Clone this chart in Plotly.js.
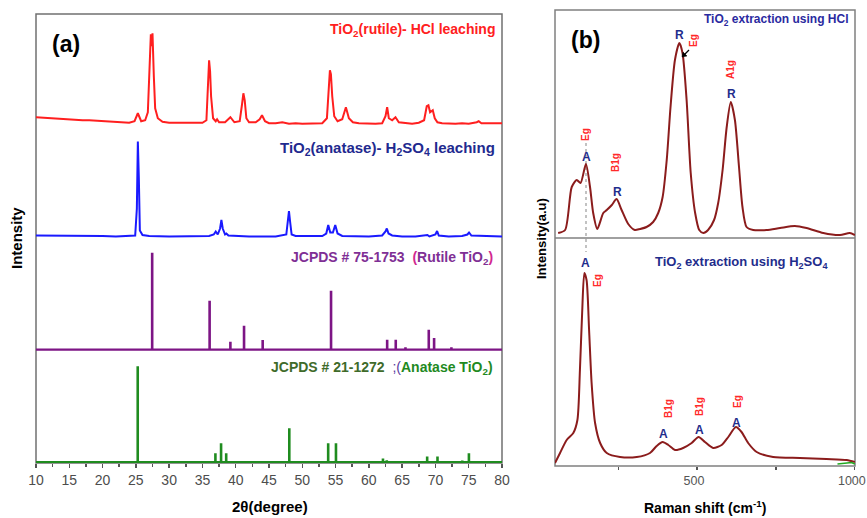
<!DOCTYPE html>
<html>
<head>
<meta charset="utf-8">
<script src="https://cdn.plot.ly/plotly-3.0.1.min.js"></script>
<style>html,body{margin:0;padding:0;background:#fff;}#plot{width:867px;height:518px;}</style>
</head>
<body>
<div id="plot"></div>
<script>
// ---------- DATA ----------
// (a) XRD, TiO2 rutile from HCl leaching: 2theta (deg), intensity (a.u.)
const rutileXrdX = [10,11,12,13,14,15,16,17,18,19,20,21,22,23,24,24.8,25.3,25.8,26.4,26.8,27.1,27.25,27.4,27.5,27.7,27.9,28.3,29,30,31,32,33,34,35,35.6,35.85,36.0,36.15,36.3,36.6,37,37.2,37.5,38.4,39.2,39.8,40.6,40.95,41.15,41.35,41.6,42,43,43.6,43.95,44.4,45,46,47,48,49,50,51,52,53,53.7,53.95,54.15,54.3,54.5,54.8,55.3,56,56.55,57,57.6,58.5,60,61,62,62.5,62.75,63,63.5,64,64.5,65.5,66.5,67.5,68.3,68.7,68.95,69.2,69.6,69.9,70.3,71,72,73,74,75,76.2,76.5,76.9,78,79,80];
const rutileXrdY = [9,8.5,8,7.5,7,7,6.5,6,6,5.5,5,4.5,4,4,3.5,5,13,5,6,14,60,92,80,93,50,18,8,4.5,3.5,3.5,3,3,3,3.5,6,40,66,55,30,8,5,7,4,4,9,4,5,22,33,26,8,4,4,7,11,5,3,3,4,2.5,3,2.5,2.5,2.5,3,8,40,56,52,30,10,5,7,19,8,4,3,2.5,2.5,3,10,19,8,6,9,4,3,2.5,3.5,6,20,21,14,16,8,4,3,2.5,2.5,3,2.5,4,5,3,3,2.5,3];
// (a) XRD, TiO2 anatase from H2SO4 leaching
const anataseXrdX = [10,12,14,16,18,20,22,24,24.9,25.15,25.3,25.45,25.6,26,27,30,32,34,36,36.7,37.0,37.3,37.65,37.85,38.05,38.4,38.6,38.9,40,42,44,46,47.6,47.85,48.0,48.15,48.4,49,51,53,53.6,53.9,54.2,54.6,54.95,55.3,56,58,60,62,62.5,62.7,62.95,63.5,65,67,68.5,68.8,69.1,70,70.25,70.5,72,74,74.8,75.05,75.4,77,78,80];
const anataseXrdY = [3,3,2.5,2.5,2.5,2.5,2,2.5,3,30,97,60,8,3.5,2.5,2,2,2,2.5,4,7,4,10,18.5,10,4,5,3,2.5,2,2,2,4,20,27.5,18,4,2.5,2.5,2.5,5,13.5,6,6,13.5,5,2.5,2,2,3,7,10,5,3,2,2,3,3.5,2,4,7.5,3,2,2.5,4,6,3,2.5,2,2];
// (a) reference patterns (stick positions and relative intensities)
const jcpdsRutilePos = [27.45,36.08,39.2,41.25,44.05,54.32,62.75,64.04,65.5,69.0,69.8,72.4];
const jcpdsRutileInt = [97,49,8,24,9.7,59,10,10,2.5,20,11.7,2.5];
const jcpdsAnatasePos = [25.28,36.95,37.8,38.57,48.05,53.89,55.06,62.12,62.69,68.76,70.31,74.03,75.03];
const jcpdsAnataseInt = [96,9,19,9,34,19,19,3.7,2,5.7,5.7,1.7,9];
const xrdTickVals = [10,15,20,25,30,35,40,45,50,55,60,65,70,75,80];
const xrdTickText = ['10','15','20','25','30','35','40','45','50','55','60','65','70','75','80'];
const xrdMinorVals = [12.5,17.5,22.5,27.5,32.5,37.5,42.5,47.5,52.5,57.5,62.5,67.5,72.5,77.5];

// (b) Raman, HCl extraction: Raman shift (cm-1), intensity (a.u.)
const ramanHclX = [60,82,103,119,131,148,161,171,184,203,214,230,245,261,282,303,319,340,361,377,391,404,416,430,444,454,467,480,494,507,520,535,554,567,581,594,607,620,633,644,657,678,720,763,810,847,900,953,984,1000];
const ramanHclY = [5,8,51,58,55,74,51,25,9,25,28,33,39,28,14,8,9,11,16,25,41,78,131,178,195,185,138,65,25,8,5,8,18,35,68,111,136,118,71,31,11,8,8,10,12,10,5,3,5,3];
// (b) Raman, H2SO4 extraction
const ramanH2so4X = [50,66,87,108,121,129,136,143,150,158,166,177,193,214,256,309,351,372,391,409,430,456,483,505,525,551,578,599,623,641,662,689,741,826,910,974,1000];
const ramanH2so4Y = [3,13,26,33,46,96,153,193,186,136,83,43,23,13,9,9,13,20,24,21,16,18,23,29,24,18,21,29,39,34,23,14,9,8,7,6,4];
const ramanGreenX = [945,970,990,1000];
const ramanGreenY = [2,2.5,3.5,2];
const ramanTickVals = [500,1000];
const ramanTickText = ['500','1000'];
const ramanMinorVals = [250,750];

// ---------- helpers ----------
const W = 867, H = 518;
const px = v => v / W;
const py = v => 1 - v / H;
const FONT = 'Arial, "Liberation Sans", sans-serif';

function sticks(pos, val, x0, x1) {
  const xs = [x0, x1, null], ys = [0, 0, null];
  for (let i = 0; i < pos.length; i++) {
    xs.push(pos[i], pos[i], null);
    ys.push(0, val[i], null);
  }
  return {xs, ys};
}
const rs = sticks(jcpdsRutilePos, jcpdsRutileInt, 10, 80);
const as = sticks(jcpdsAnatasePos, jcpdsAnataseInt, 10, 80);

const traces = [
  {x: rutileXrdX, y: rutileXrdY, xaxis: 'x', yaxis: 'y', mode: 'lines', line: {color: '#ff1f1f', width: 2}, hoverinfo: 'skip'},
  {x: anataseXrdX, y: anataseXrdY, xaxis: 'x', yaxis: 'y2', mode: 'lines', line: {color: '#1a1aff', width: 2}, hoverinfo: 'skip'},
  {x: rs.xs, y: rs.ys, xaxis: 'x', yaxis: 'y3', mode: 'lines', line: {color: '#7d1585', width: 2.6}, connectgaps: false, hoverinfo: 'skip'},
  {x: as.xs, y: as.ys, xaxis: 'x', yaxis: 'y4', mode: 'lines', line: {color: '#1f8c1f', width: 2.6}, connectgaps: false, hoverinfo: 'skip'},
  {x: ramanHclX, y: ramanHclY, xaxis: 'x2', yaxis: 'y5', mode: 'lines', line: {color: '#8b1c1c', width: 2, shape: 'spline', smoothing: 0.7}, hoverinfo: 'skip'},
  {x: ramanH2so4X, y: ramanH2so4Y, xaxis: 'x2', yaxis: 'y6', mode: 'lines', line: {color: '#8b1c1c', width: 2, shape: 'spline', smoothing: 0.7}, hoverinfo: 'skip'},
  {x: ramanGreenX, y: ramanGreenY, xaxis: 'x2', yaxis: 'y6', mode: 'lines', line: {color: '#22aa22', width: 1.5}, hoverinfo: 'skip'}
];

const hiddenY = (dom, rng) => ({domain: dom, range: rng, anchor: 'x', showgrid: false, zeroline: false, showline: false, showticklabels: false, ticks: '', fixedrange: true});
const hiddenY2 = (dom, rng) => ({domain: dom, range: rng, anchor: 'x2', showgrid: false, zeroline: false, showline: false, showticklabels: false, ticks: '', fixedrange: true});

const navy = '#1f2d8c';
const red = '#ff2a2a';
function ann(x, y, text, opts) {
  return Object.assign({xref: 'paper', yref: 'paper', x: px(x), y: py(y), text: text, showarrow: false,
    xanchor: 'center', yanchor: 'middle', font: {family: FONT, size: 12, color: '#000'}}, opts || {});
}
const annotations = [
  ann(66, 44, '<b>(a)</b>', {font: {family: FONT, size: 23, color: '#000'}}),
  ann(585, 40, '<b>(b)</b>', {font: {family: FONT, size: 23, color: '#000'}}),
  ann(497, 30, '<b>TiO<sub>2</sub>(rutile)- HCl leaching</b>', {xanchor: 'right', font: {family: FONT, size: 14, color: '#ff2020'}}),
  ann(497, 148, '<b>TiO<sub>2</sub>(anatase)- H<sub>2</sub>SO<sub>4</sub> leaching</b>', {xanchor: 'right', font: {family: FONT, size: 15, color: '#1f2a8f'}}),
  ann(495, 258, '<b>JCPDS # 75-1753</b>  <span style="color:#d2288f"><b>(</b></span><b>Rutile TiO<sub>2</sub></b><span style="color:#d2288f"><b>)</b></span>', {xanchor: 'right', font: {family: FONT, size: 14, color: '#7f2f95'}}),
  ann(495, 368, '<span style="color:#3f6b2a"><b>JCPDS # 21-1272</b></span>  <span style="color:#5a3aa0">;(</span><b>Anatase TiO<sub>2</sub>)</b>', {xanchor: 'right', font: {family: FONT, size: 14, color: '#1f8a1f'}}),
  ann(17, 238, '<b>Intensity</b>', {textangle: -90, font: {family: FONT, size: 15, color: '#000'}}),
  ann(270, 506, '<b>2θ(degree)</b>', {font: {family: FONT, size: 15, color: '#000'}}),
  ann(850, 20, '<b>TiO<sub>2</sub> extraction using HCl</b>', {xanchor: 'right', font: {family: FONT, size: 12, color: '#2a2aa0'}}),
  ann(741, 262, '<b>TiO<sub>2</sub> extraction using H<sub>2</sub>SO<sub>4</sub></b>', {font: {family: FONT, size: 13, color: navy}}),
  ann(541, 239, '<b>Intensity(a.u)</b>', {textangle: -90, font: {family: FONT, size: 13, color: '#000'}}),
  ann(705, 507, '<b>Raman shift (cm<sup>-1</sup>)</b>', {font: {family: FONT, size: 14, color: '#000'}}),
  // Raman peak labels (HCl)
  ann(586, 157, '<b>A</b>', {font: {family: FONT, size: 12, color: navy}}),
  ann(585, 135, '<b>Eg</b>', {textangle: -90, font: {family: FONT, size: 10, color: red}}),
  ann(616, 163, '<b>B1g</b>', {textangle: -90, font: {family: FONT, size: 10, color: red}}),
  ann(617, 192, '<b>R</b>', {font: {family: FONT, size: 12, color: navy}}),
  ann(679, 35, '<b>R</b>', {font: {family: FONT, size: 12, color: navy}}),
  ann(694, 41, '<b>Eg</b>', {textangle: -90, font: {family: FONT, size: 10, color: red}}),
  ann(731, 70, '<b>A1g</b>', {textangle: -90, font: {family: FONT, size: 10, color: red}}),
  ann(731, 94, '<b>R</b>', {font: {family: FONT, size: 12, color: navy}}),
  // Raman peak labels (H2SO4)
  ann(585, 263, '<b>A</b>', {font: {family: FONT, size: 12, color: navy}}),
  ann(597, 281, '<b>Eg</b>', {textangle: -90, font: {family: FONT, size: 10, color: red}}),
  ann(668, 409, '<b>B1g</b>', {textangle: -90, font: {family: FONT, size: 10, color: red}}),
  ann(663, 434, '<b>A</b>', {font: {family: FONT, size: 12, color: navy}}),
  ann(699, 407, '<b>B1g</b>', {textangle: -90, font: {family: FONT, size: 10, color: red}}),
  ann(699, 430, '<b>A</b>', {font: {family: FONT, size: 12, color: navy}}),
  ann(737, 402, '<b>Eg</b>', {textangle: -90, font: {family: FONT, size: 10, color: red}}),
  ann(736, 423, '<b>A</b>', {font: {family: FONT, size: 12, color: navy}})
];

const shapes = [
  {type: 'rect', xref: 'paper', yref: 'paper', x0: px(36), x1: px(502), y0: py(463), y1: py(14), line: {color: '#707070', width: 1.5}, layer: 'below'},
  {type: 'rect', xref: 'paper', yref: 'paper', x0: px(555), x1: px(855), y0: py(466), y1: py(10), line: {color: '#808080', width: 1.5}, layer: 'below'},
  {type: 'line', xref: 'paper', yref: 'paper', x0: px(555), x1: px(855), y0: py(238), y1: py(238), line: {color: '#808080', width: 1.5}, layer: 'below'},
  {type: 'line', xref: 'paper', yref: 'paper', x0: px(586), x1: px(586), y0: py(143), y1: py(252), line: {color: '#9a9a9a', width: 1.2, dash: 'dot'}, layer: 'below'},
  // small arrow pointing at the rutile Eg peak
  {type: 'line', xref: 'paper', yref: 'paper', x0: px(689), x1: px(684), y0: py(50), y1: py(55), line: {color: '#000', width: 1.3}},
  {type: 'path', xref: 'paper', yref: 'paper', path: 'M ' + px(682) + ' ' + py(57) + ' L ' + px(683) + ' ' + py(52) + ' L ' + px(687) + ' ' + py(56) + ' Z', fillcolor: '#000', line: {color: '#000', width: 0.5}}
];

const layout = {
  width: W, height: H,
  margin: {l: 0, r: 0, t: 0, b: 0},
  paper_bgcolor: '#ffffff', plot_bgcolor: 'rgba(0,0,0,0)',
  showlegend: false,
  font: {family: FONT},
  xaxis: {domain: [px(36), px(502)], range: [10, 80], anchor: 'y4', showgrid: false, zeroline: false, showline: false,
    tickmode: 'array', tickvals: xrdTickVals, ticktext: xrdTickText, ticks: 'outside', ticklen: 4, tickwidth: 1.5, tickcolor: '#555',
    minor: {tickmode: 'array', tickvals: xrdMinorVals, ticks: 'outside', ticklen: 3, tickwidth: 1.5, tickcolor: '#555'},
    ticklabeloverflow: 'allow',
    tickfont: {family: FONT, size: 14, color: '#4d4d4d'}, fixedrange: true},
  yaxis: hiddenY([py(126.25), py(14)], [0, 112.25]),
  yaxis2: hiddenY([py(238.5), py(126.25)], [0, 112.25]),
  yaxis3: hiddenY([py(350.75), py(238.5)], [-1, 111.25]),
  yaxis4: hiddenY([py(463), py(350.75)], [-0.8, 111.45]),
  xaxis2: {domain: [px(555), px(855)], range: [50, 1000.5], anchor: 'y6', showgrid: false, zeroline: false, showline: false,
    tickmode: 'array', tickvals: ramanTickVals, ticktext: ramanTickText, ticks: 'outside', ticklen: 3, tickwidth: 1.2, tickcolor: '#555',
    minor: {tickmode: 'array', tickvals: ramanMinorVals, ticks: 'outside', ticklen: 3, tickwidth: 1.2, tickcolor: '#555'},
    ticklabeloverflow: 'allow', ticklabelshift: -3,
    tickfont: {family: FONT, size: 12.5, color: '#555'}, fixedrange: true},
  yaxis5: hiddenY2([py(238), py(10)], [0, 228]),
  yaxis6: hiddenY2([py(466), py(238)], [0, 228]),
  annotations: annotations,
  shapes: shapes
};

Plotly.newPlot('plot', traces, layout, {displayModeBar: false, staticPlot: true});
</script>
</body>
</html>
